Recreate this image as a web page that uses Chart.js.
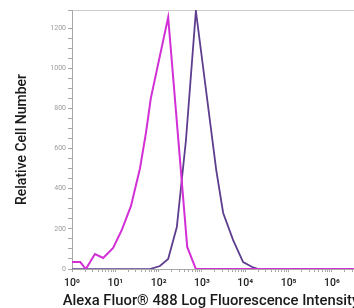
<!DOCTYPE html>
<html>
<head>
<meta charset="utf-8">
<script src="https://cdn.jsdelivr.net/npm/chart.js@4/dist/chart.umd.min.js"></script>
<style>
  html, body { margin: 0; padding: 0; background: #fff; overflow: hidden; }
  #chart { display: block; }
</style>
</head>
<body>
<canvas id="chart" width="422" height="316"></canvas>
<script>
// x positions are log10 of fluorescence intensity (decades)
const magentaX = [0, 0.19, 0.32, 0.53, 0.72, 0.95, 1.15, 1.36, 1.57, 1.71, 1.82, 2.22, 2.66, 2.86, 8.1];
const magentaY = [35, 35, 0, 75, 55, 105, 195, 313, 502, 682, 851, 1254, 110, 0, 0];

const purpleX = [0, 1.8, 2.03, 2.22, 2.42, 2.63, 2.86, 3.33, 3.49, 3.72, 3.95, 4.16, 4.3, 8.1];
const purpleY = [0, 0, 15, 50, 209, 640, 1285, 493, 279, 144, 35, 10, 0, 0];

const decades = [0, 1, 2, 3, 4, 5, 6];
const minorSteps = [2, 3, 4, 5, 6, 7, 8, 9];
const supers = ["⁰", "¹", "²", "³", "⁴", "⁵", "⁶"];

// canvas is larger than the 354x308 window: the original figure is cut
// on the right and bottom, so the axis and x title run off the edge.
const X_MAX = 8.08;
const Y_MAX = 1290;

function pts(xs, ys) {
  return xs.map((x, i) => ({ x: x, y: ys[i] }));
}

const ctx = document.getElementById("chart");
new Chart(ctx, {
  type: "line",
  data: {
    datasets: [
      {
        label: "Control",
        data: pts(magentaX, magentaY),
        borderColor: "#d22fd6",
        borderWidth: 2,
        pointRadius: 0,
        tension: 0,
        fill: false,
      },
      {
        label: "Stained",
        data: pts(purpleX, purpleY),
        borderColor: "#5e3d8f",
        borderWidth: 1.8,
        pointRadius: 0,
        tension: 0,
        fill: false,
      },
    ],
  },
  options: {
    responsive: false,
    animation: false,
    devicePixelRatio: 1,
    layout: { padding: { top: 10, right: 0, bottom: 0, left: 0 } },
    plugins: {
      legend: { display: false },
      tooltip: { enabled: false },
      title: {
        display: true,
        position: "bottom",
        text: "Alexa Fluor® 488 Log Fluorescence Intensity",
        color: "#1a1a1a",
        font: { family: "Roboto", size: 14.8, weight: "500", lineHeight: 1.2 },
        padding: { top: 0, bottom: 6 },
      },
    },
    scales: {
      x: {
        type: "linear",
        min: 0,
        max: X_MAX,
        afterBuildTicks: (scale) => {
          const t = [];
          decades.forEach((d) => {
            t.push({ value: d });
            minorSteps.forEach((m) => t.push({ value: d + Math.log10(m) }));
          });
          scale.ticks = t;
        },
        afterFit: (scale) => { scale.height = 23.2; },
        grid: { drawOnChartArea: false, tickLength: 3, tickColor: "#a8a8a8" },
        border: { color: "#a8a8a8", width: 1 },
        ticks: {
          autoSkip: false,
          maxRotation: 0,
          padding: 5,
          color: "#222",
          font: { family: "Roboto", size: 10.5, weight: "500" },
          callback: (v) => (Number.isInteger(v) ? "10" + supers[v] : ""),
        },
      },
      y: {
        min: 0,
        max: Y_MAX,
        afterFit: (scale) => { scale.width = 72; },
        grid: {
          drawOnChartArea: true,
          tickLength: 4,
          color: (c) => (c.tick && c.tick.value === Y_MAX ? "#cccccc" : "rgba(0,0,0,0)"),
          tickColor: "#a8a8a8",
        },
        border: { color: "#a8a8a8", width: 1 },
        ticks: {
          stepSize: 50,
          autoSkip: false,
          padding: 2,
          color: "#9a9a9a",
          font: { family: "Roboto", size: 7 },
          callback: (v) => (v % 200 === 0 ? v : ""),
        },
        title: {
          display: true,
          text: "Relative Cell Number",
          color: "#1a1a1a",
          font: { family: "Roboto", size: 14, weight: "500" },
          padding: { top: 14, bottom: 0 },
        },
      },
    },
  },
});
</script>
</body>
</html>
